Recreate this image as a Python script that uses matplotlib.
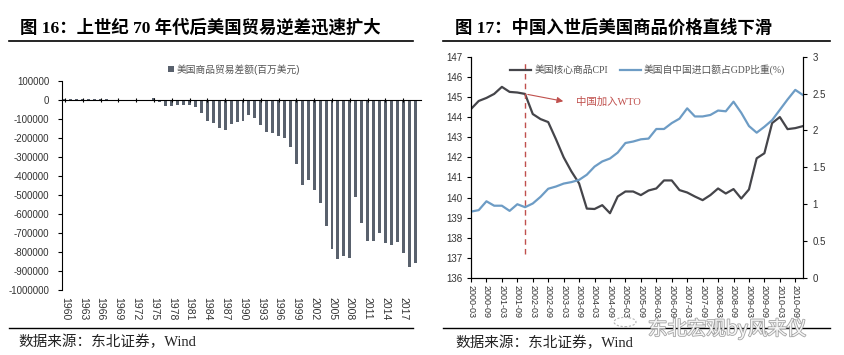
import matplotlib
matplotlib.use('Agg')
import matplotlib.pyplot as plt
import matplotlib.patheffects as pe
from matplotlib.lines import Line2D
from matplotlib.patches import Circle
from matplotlib.ticker import FuncFormatter

plt.rcParams['font.family'] = ['Liberation Sans', 'Noto Sans CJK SC', 'DejaVu Sans']
plt.rcParams['axes.unicode_minus'] = False

# left chart: US goods trade balance, millions USD
years = list(range(1960, 2020))
balance = [4892, 5571, 4521, 5224, 6801, 4951, 3817, 3800, 635, 607,
           2603, -2260, -6416, 911, -5505, 8903, -9483, -31091, -33927, -27568,
           -25500, -28023, -36485, -67102, -112492, -122173, -145081, -159557, -126959, -117749,
           -111037, -76937, -96897, -132451, -165831, -174170, -191000, -198428, -248221, -337068,
           -446783, -422370, -475245, -541643, -664766, -782804, -837289, -821196, -832492, -509694,
           -648671, -740646, -741119, -702244, -751542, -761868, -749801, -807495, -880300, -857300]
year_ticks = years[::3]

# right chart: quarterly 2000-03 .. 2010-12
quarters = [f'{y}-{m:02d}' for y in range(2000, 2011) for m in (3, 6, 9, 12)]
core_cpi = [144.4, 144.8, 144.95, 145.15, 145.5, 145.25, 145.22, 145.15, 144.15, 143.9,
            143.75, 142.9, 142.0, 141.3, 140.7, 139.45, 139.43, 139.62, 139.22, 140.05,
            140.3, 140.3, 140.12, 140.35, 140.45, 140.85, 140.85, 140.37, 140.25, 140.05,
            139.87, 140.12, 140.45, 140.2, 140.42, 139.95, 140.4, 141.95, 142.2, 143.7,
            144.0, 143.4, 143.45, 143.55]
import_share = [0.90, 0.92, 1.04, 0.98, 0.98, 0.91, 1.00, 0.96, 1.01, 1.10,
                1.21, 1.24, 1.28, 1.30, 1.33, 1.40, 1.51, 1.58, 1.62, 1.70,
                1.83, 1.85, 1.88, 1.89, 2.02, 2.02, 2.10, 2.16, 2.30, 2.19,
                2.19, 2.21, 2.27, 2.26, 2.39, 2.24, 2.06, 1.97, 2.05, 2.14,
                2.28, 2.42, 2.55, 2.48]
wto_idx = quarters.index('2001-12')

W, H = 845, 355
serif_cjk = ['Liberation Serif', 'Noto Sans CJK SC']
bar_color = '#59616d'
cpi_color = '#45454a'
share_color = '#6d9cc5'
red = '#c0504d'
tick_color = '#333333'

fig = plt.figure(figsize=(W / 100, H / 100), dpi=100)

# ---- left panel ----
ax = fig.add_axes([62 / W, 1 - 290 / H, 359 / W, 209 / H])
ax.bar(years, balance, width=0.5, color=bar_color, label='美国商品贸易差额(百万美元)')
ax.set_xlim(1959.5, 2020)
ax.set_ylim(-1000000, 100000)
ax.set_yticks(range(-1000000, 100001, 100000))
ax.yaxis.set_major_formatter(FuncFormatter(lambda v, _: f'{int(v)}'))
ax.tick_params(axis='y', labelsize=7, length=3, pad=6, labelcolor=tick_color)
ax.spines['top'].set_visible(False)
ax.spines['right'].set_visible(False)
ax.spines['bottom'].set_position(('data', 0))
ax.set_xticks(year_ticks)
ax.tick_params(axis='x', labelbottom=False, length=3, direction='inout')
sec = ax.secondary_xaxis('bottom')
sec.set_xticks(year_ticks, labels=[str(y) for y in year_ticks])
sec.tick_params(length=0, pad=5, labelsize=7.5, labelrotation=-90, labelcolor=tick_color)
sec.spines['bottom'].set_visible(False)
ax.legend(loc='center', bbox_to_anchor=(0.48, 1.055), frameon=False, fontsize=7,
          handlelength=0.6, handleheight=0.6, handletextpad=0.3, labelcolor='#555555')

# ---- right panel ----
ax1 = fig.add_axes([471 / W, 1 - 278 / H, 332 / W, 221.3 / H])
x = list(range(len(quarters)))
l1, = ax1.plot(x, core_cpi, color=cpi_color, lw=1.6, label='美国核心商品CPI')
ax1.set_xlim(0, len(quarters) - 1)
ax1.set_ylim(136, 147)
ax1.set_yticks(range(136, 148))
ax1.set_xticks(x[::2], labels=quarters[::2])
ax1.tick_params(axis='x', labelsize=6.5, labelrotation=-90, length=3, pad=2, labelcolor=tick_color)
ax1.tick_params(axis='y', labelsize=7, length=3, pad=3, labelcolor=tick_color)
ax1.spines['top'].set_visible(False)

ax2 = ax1.twinx()
l2, = ax2.plot(x, import_share, color=share_color, lw=1.6, label='美国自中国进口额占GDP比重(%)')
ax2.set_ylim(0, 3)
ax2.set_yticks([0, 0.5, 1, 1.5, 2, 2.5, 3])
ax2.yaxis.set_major_formatter(FuncFormatter(lambda v, _: f'{v:g}'))
ax2.tick_params(axis='y', labelsize=7, length=3, pad=4, labelcolor=tick_color)
ax2.spines['top'].set_visible(False)

ax1.vlines(wto_idx, 137.2, 146.8, colors=red, linestyles=(0, (4, 3)), lw=1)
ax1.annotate('', xy=(wto_idx + 5.3, 144.76), xytext=(wto_idx, 145.15),
             arrowprops=dict(arrowstyle='-|>', color=red, lw=0.8, mutation_scale=9))
ax1.text(wto_idx + 6.6, 144.76, '中国加入WTO', color=red, fontsize=7.5, va='center',
         family=serif_cjk)

ax2.legend(handles=[l1, l2], loc='center', bbox_to_anchor=(0.532, 0.94), ncol=2,
           frameon=False, handlelength=2.2, handletextpad=0.3,
           columnspacing=1.2, labelcolor='#555555', prop={'family': serif_cjk, 'size': 7})

# ---- titles, rules, sources ----
for x0, x1 in [(9, 413), (443, 830)]:
    fig.add_artist(Line2D([x0 / W, x1 / W], [1 - 41 / H] * 2, color='black', lw=1.2))
    fig.add_artist(Line2D([x0 / W, x1 / W], [1 - 327.5 / H] * 2, color='black', lw=1.0))

fig.text(20 / W, 1 - 28 / H, '图 16：上世纪 70 年代后美国贸易逆差迅速扩大', va='center',
         fontsize=12.5, fontweight='bold', family=serif_cjk)
fig.text(455 / W, 1 - 28 / H, '图 17：中国入世后美国商品价格直线下滑', va='center',
         fontsize=12.5, fontweight='bold', family=serif_cjk)
fig.text(18 / W, 1 - 342 / H, '数据来源：东北证券，Wind', va='center', fontsize=10.5,
         family=serif_cjk, color='#222222')
fig.text(455 / W, 1 - 343 / H, '数据来源：东北证券，Wind', va='center', fontsize=10.5,
         family=serif_cjk, color='#222222')

# faint watermark
fig.add_artist(Circle((625 / W, 1 - 322 / H), 11 / W, transform=fig.transFigure,
                      fill=False, ec='#b5b5b5', lw=0.8, ls=(0, (2, 1.5))))
wm = fig.text(648 / W, 1 - 329 / H, '东北宏观by风来仪', va='center', fontsize=14,
              color='white', alpha=0.9, family=['Noto Sans CJK SC'])
wm.set_path_effects([pe.withStroke(linewidth=1.2, foreground='#9a9a9a')])

fig.savefig('out.png', dpi=100)
